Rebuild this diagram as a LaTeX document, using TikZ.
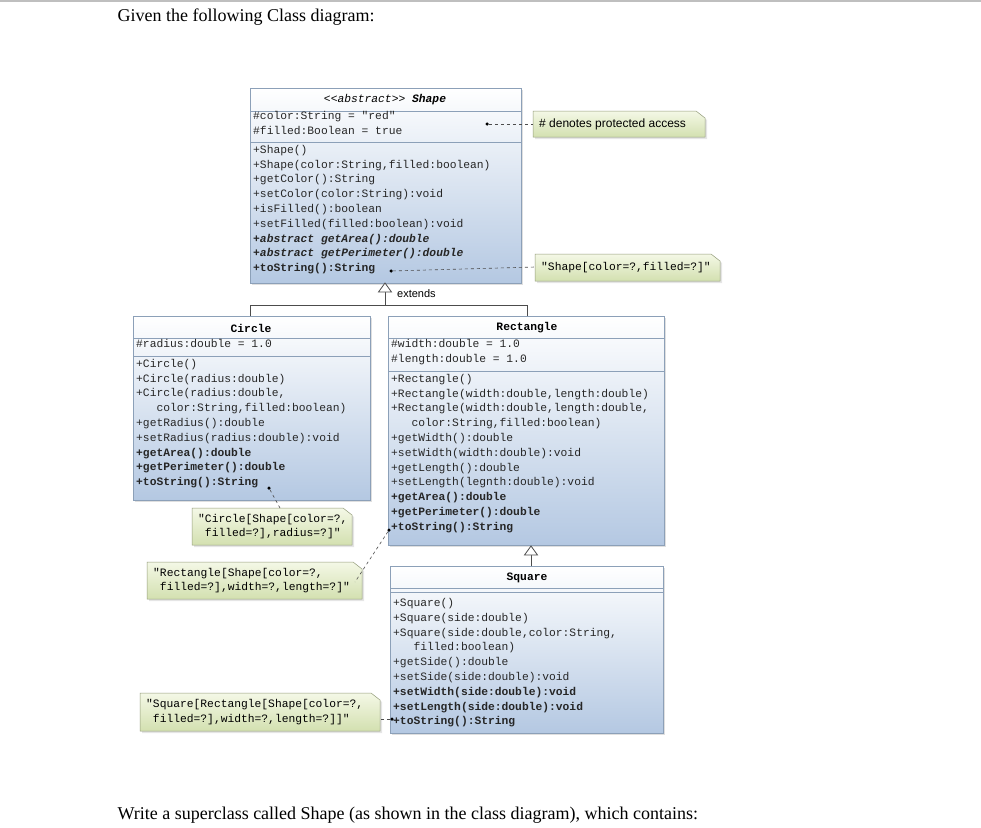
\documentclass[tikz,border=0pt]{standalone}
\usepackage{fontspec}
\setmainfont{Liberation Serif}
\newfontfamily\umlmono{Liberation Mono}
\newfontfamily\notefont{Liberation Sans}
\usetikzlibrary{shadows}
\definecolor{umlblue}{HTML}{B4C8E2}
\definecolor{umlborder}{HTML}{8CA0B8}
\definecolor{notegreen}{HTML}{D3E0B0}
\definecolor{notetop}{HTML}{F4F8E6}
\tikzset{
  cls/.style={draw=umlborder, line width=0.8pt, top color=white, bottom color=umlblue, drop shadow={opacity=0.25,shadow xshift=2pt,shadow yshift=-2pt}},
  sep/.style={draw=umlborder, line width=0.6pt},
  txt/.style={anchor=north west, inner sep=0pt, align=left, font=\umlmono\fontsize{11.3}{14.8}\selectfont, text=black!85},
  ttl/.style={inner sep=0pt, font=\umlmono\fontsize{11.3}{14}\selectfont\bfseries},
  note/.style={draw=notegreen!70!black, line width=0.5pt, top color=notetop, bottom color=notegreen, drop shadow={opacity=0.2,shadow xshift=2pt,shadow yshift=-2pt}},
  conn/.style={dashed, line width=0.6pt, black!70},
  dotc/.style={circle, fill=black, inner sep=0pt, minimum size=3.5pt},
  gen/.style={draw=black!70, line width=0.8pt},
}
\begin{document}
\begin{tikzpicture}[x=1pt,y=-1pt]
\useasboundingbox (0,0) rectangle (981,827);
\fill[white] (0,0) rectangle (981,827);
\draw[black!25, line width=1.5pt] (0,1) -- (981,1);
\node[anchor=west, font=\fontsize{18}{20}\selectfont] (head) at (114,17) {Given the following Class diagram:};
\node[anchor=west, font=\fontsize{18}{20}\selectfont] (foot) at (114,815) {Write a superclass called Shape (as shown in the class diagram), which contains:};

% ---------- Shape
\path[cls] (250,88) rectangle (521,283);
\node[inner sep=0pt] (shapebox) at (385.5,185.5) {};
\draw[sep] (250,111) -- (521,111);
\draw[sep] (250,142) -- (521,142);
\node[ttl, font=\umlmono\fontsize{11.3}{14}\selectfont\itshape] (shapettl) at (385,100) {<<abstract>> \textbf{Shape}};
\node[txt] (shapeattr) at (253,111) {\#color:String = "red"\\\#filled:Boolean = true};
\node[txt] (shapemeth) at (253,145) {+Shape()\\+Shape(color:String,filled:boolean)\\+getColor():String\\+setColor(color:String):void\\+isFilled():boolean\\+setFilled(filled:boolean):void\\\textbf{\textit{+abstract getArea():double}}\\\textbf{\textit{+abstract getPerimeter():double}}\\\textbf{+toString():String}};

% notes helper
\newcommand\umlnote[6]{% name, x1,y1,x2,y2, text
  \path[note] (#2,#3) -- ({#4-9},#3) -- (#4,{#3+7}) -- (#4,#5) -- (#2,#5) -- cycle;
  \node[inner sep=0pt] (#1) at ({(#2+#4)/2},{(#3+#5)/2}) {};
  \node[inner sep=0pt, anchor=west, align=left, font=\umlmono\fontsize{11.3}{14.8}\selectfont] at ({#2+6},{(#3+#5)/2}) {#6};
}
\umlnote{n1}{533}{111}{705}{137}{\notefont\fontsize{12}{14}\selectfont\# denotes protected access}
\umlnote{n2}{535}{254}{720}{281}{"Shape[color=?,filled=?]"}
\umlnote{n3}{192}{508}{352}{545}{"Circle[Shape[color=?,\\\ filled=?],radius=?]"}
\umlnote{n4}{147}{562}{362}{599}{"Rectangle[Shape[color=?,\\\ filled=?],width=?,length=?]"}
\umlnote{n5}{140}{693}{380}{731}{"Square[Rectangle[Shape[color=?,\\\ filled=?],width=?,length=?]]"}

\node[dotc] (d1) at (487,124) {};
\draw[conn] (d1) -- (533,124);
\node[dotc] (d2) at (391,271) {};
\draw[conn] (d2) -- (535,267);

% ---------- Circle
\path[cls] (133,316) rectangle (370,500);
\draw[sep] (133,338) -- (370,338);
\draw[sep] (133,356) -- (370,356);
\node[ttl] (circttl) at (251,328) {Circle};
\node[txt] (circattr) at (136,339) {\#radius:double = 1.0};
\node[txt] (circmeth) at (136,359) {+Circle()\\+Circle(radius:double)\\+Circle(radius:double,\\\ \ \ color:String,filled:boolean)\\+getRadius():double\\+setRadius(radius:double):void\\\textbf{+getArea():double}\\\textbf{+getPerimeter():double}\\\textbf{+toString():String}};
\node[dotc] (d3) at (269,488) {};
\draw[conn] (d3) -- (280,508);

% ---------- Rectangle
\path[cls] (388,316) rectangle (664,545);
\draw[sep] (388,338) -- (664,338);
\draw[sep] (388,371) -- (664,371);
\node[ttl] (rectttl) at (527,328) {Rectangle};
\node[txt] (rectattr) at (391,339) {\#width:double = 1.0\\\#length:double = 1.0};
\node[txt] (rectmeth) at (391,374) {+Rectangle()\\+Rectangle(width:double,length:double)\\+Rectangle(width:double,length:double,\\\ \ \ color:String,filled:boolean)\\+getWidth():double\\+setWidth(width:double):void\\+getLength():double\\+setLength(legnth:double):void\\\textbf{+getArea():double}\\\textbf{+getPerimeter():double}\\\textbf{+toString():String}};
\node[dotc] (d4) at (389,530) {};
\draw[conn] (d4) -- (355,582);

% ---------- Square
\path[cls] (390,566) rectangle (663,733);
\draw[sep] (390,588) -- (663,588);
\draw[sep] (390,592) -- (663,592);
\node[ttl] (sqttl) at (527,578) {Square};
\node[txt] (sqmeth) at (393,598) {+Square()\\+Square(side:double)\\+Square(side:double,color:String,\\\ \ \ filled:boolean)\\+getSide():double\\+setSide(side:double):void\\\textbf{+setWidth(side:double):void}\\\textbf{+setLength(side:double):void}\\\textbf{+toString():String}};
\node[dotc] (d5) at (392,719) {};
\draw[conn] (d5) -- (380,719);

% ---------- generalisation
\coordinate (g1) at (385,283);
\draw[gen] (385,305) -- (385,291);
\draw[gen, fill=white] (g1) -- (378.5,292) -- (391.5,292) -- cycle;
\draw[gen] (250,316) -- (250,305) -- (527,305) -- (527,316);
\node[anchor=west, inner sep=0pt, font=\notefont\fontsize{11}{13}\selectfont] (ext) at (397,294) {extends};
\coordinate (g2) at (531,546);
\draw[gen] (531,566) -- (531,555);
\draw[gen, fill=white] (g2) -- (524.5,555) -- (537.5,555) -- cycle;
\end{tikzpicture}
\end{document}
